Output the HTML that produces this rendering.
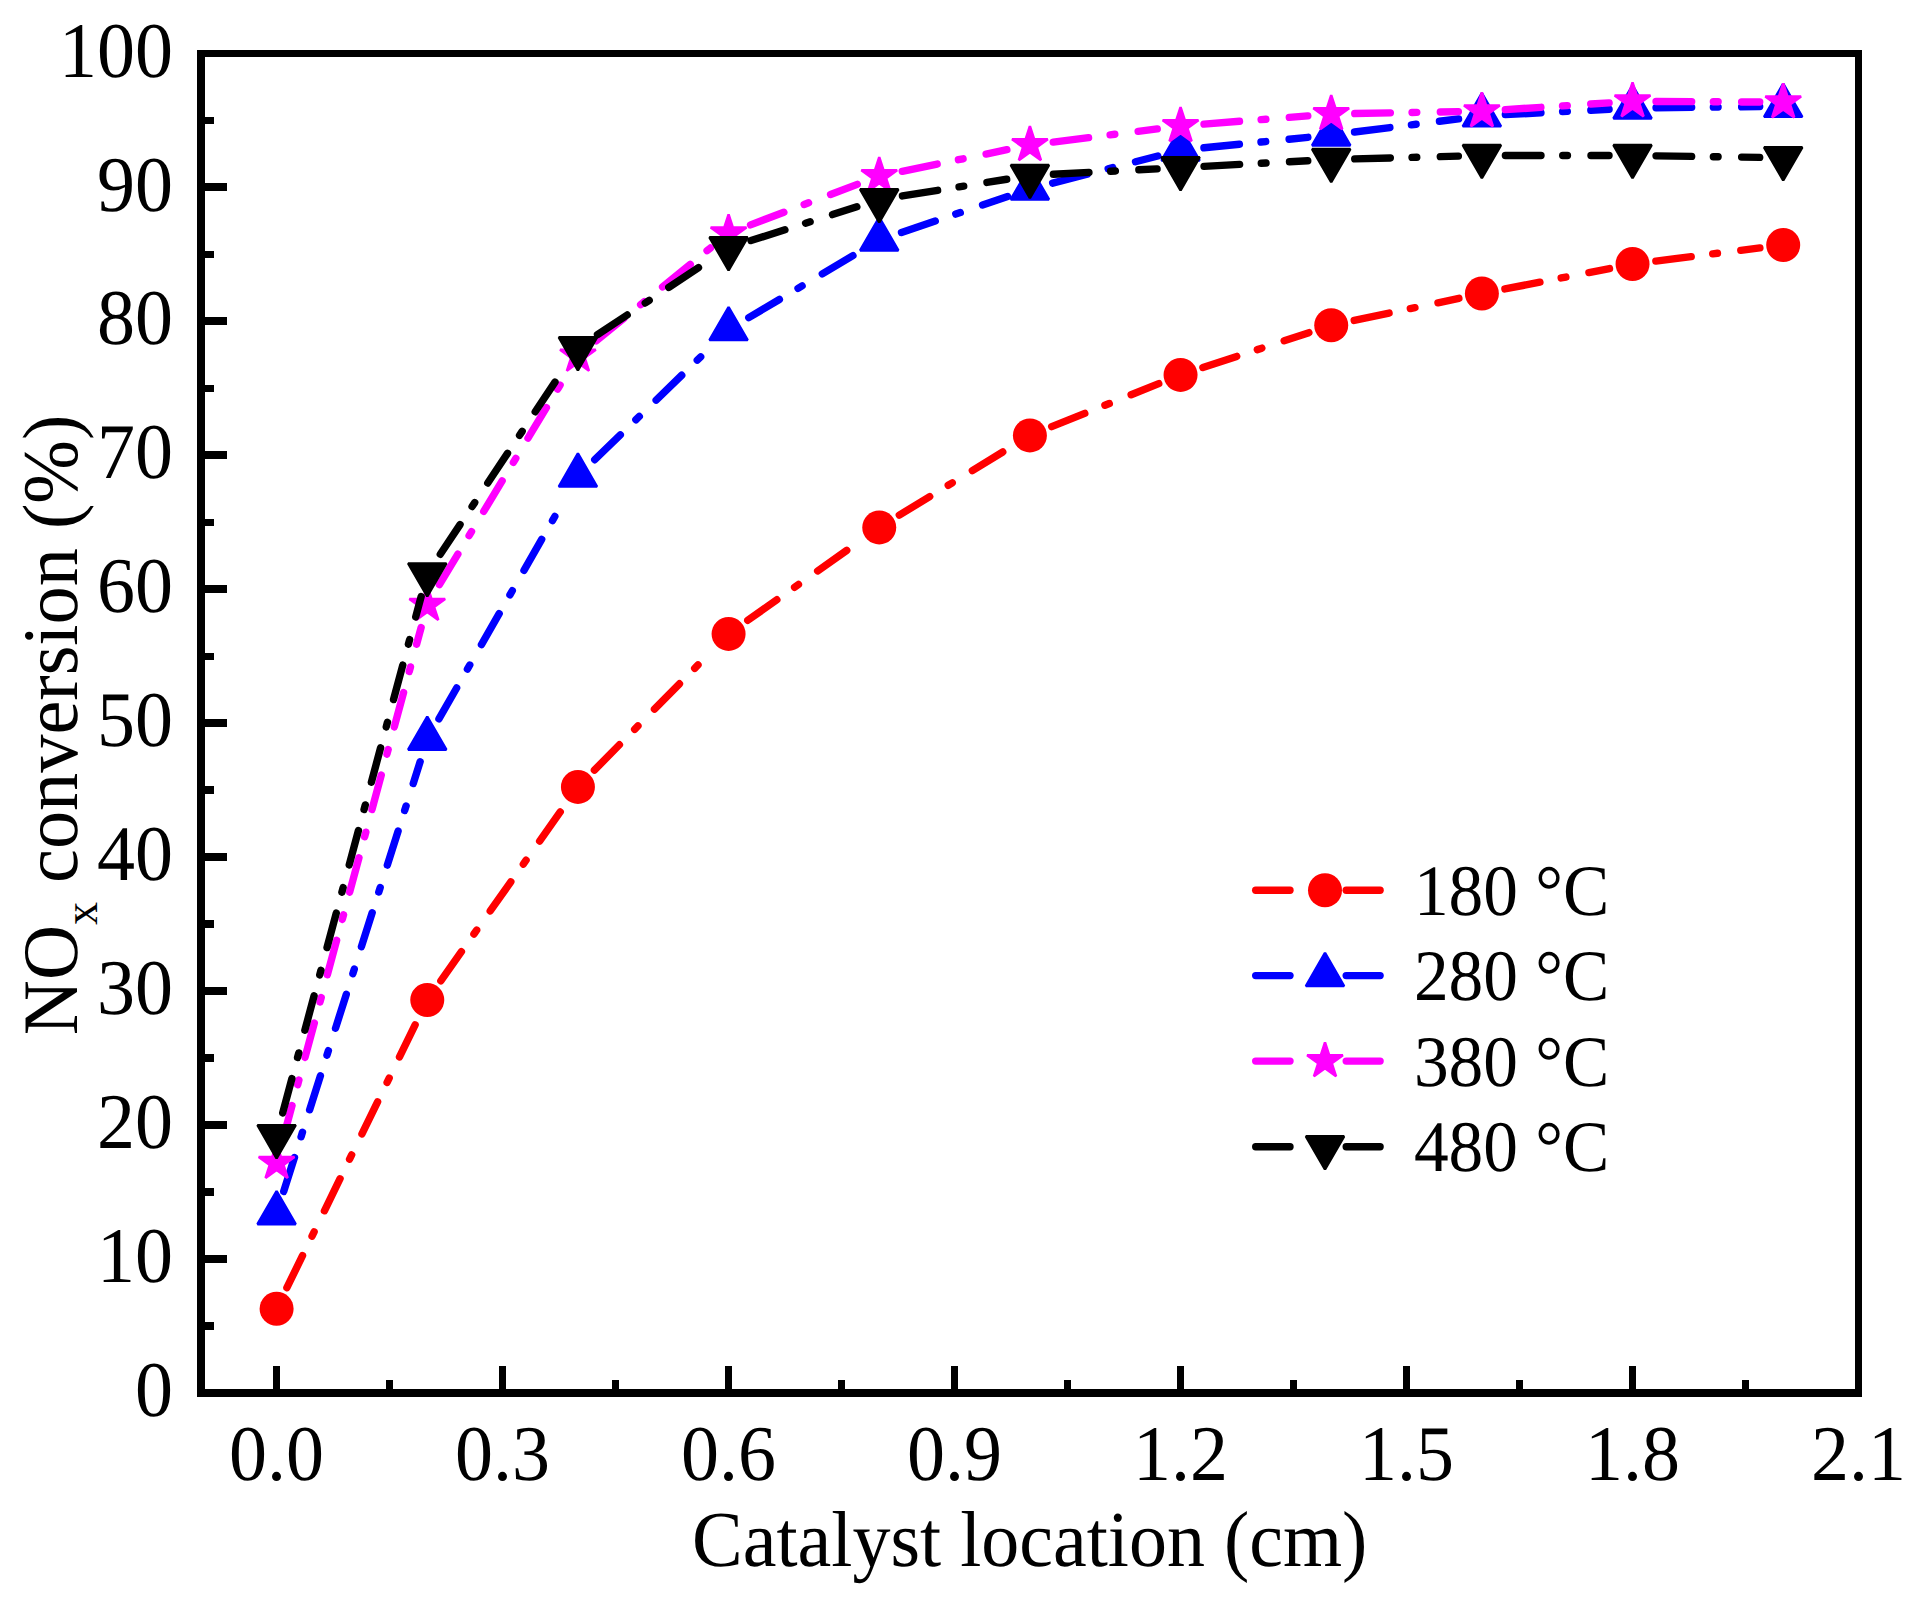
<!DOCTYPE html>
<html><head><meta charset="utf-8"><title>NOx conversion vs catalyst location</title>
<style>html,body{margin:0;padding:0;background:#fff;width:1913px;height:1602px;overflow:hidden}svg{display:block}</style>
</head><body><svg width="1913" height="1602" viewBox="0 0 1913 1602" text-rendering="geometricPrecision"><g stroke="#ff0000" stroke-width="7.4" stroke-linecap="round" stroke-dasharray="35.63 21.7 4.74 23.52" fill="none"><line x1="286.9" y1="1287.68" x2="416.96" y2="1021.12"/><line x1="440.83" y1="980.81" x2="564.35" y2="806.09"/><line x1="594.41" y1="770.16" x2="712.09" y2="650.64"/><line x1="747.77" y1="620.34" x2="860.05" y2="540.96"/><line x1="899.3" y1="515.15" x2="1009.84" y2="447.65"/><line x1="1051.71" y1="426.64" x2="1158.75" y2="383.66"/><line x1="1202.88" y1="367.55" x2="1308.9" y2="332.65"/><line x1="1354.21" y1="320.45" x2="1458.89" y2="298.35"/><line x1="1504.94" y1="288.98" x2="1609.48" y2="268.52"/><line x1="1655.86" y1="261.06" x2="1759.88" y2="247.94"/></g><circle cx="276.6" cy="1308.8" r="17.0" fill="#ff0000"/><circle cx="427.26" cy="1000" r="17.0" fill="#ff0000"/><circle cx="577.92" cy="786.9" r="17.0" fill="#ff0000"/><circle cx="728.58" cy="633.9" r="17.0" fill="#ff0000"/><circle cx="879.24" cy="527.4" r="17.0" fill="#ff0000"/><circle cx="1029.9" cy="435.4" r="17.0" fill="#ff0000"/><circle cx="1180.56" cy="374.9" r="17.0" fill="#ff0000"/><circle cx="1331.22" cy="325.3" r="17.0" fill="#ff0000"/><circle cx="1481.88" cy="293.5" r="17.0" fill="#ff0000"/><circle cx="1632.54" cy="264" r="17.0" fill="#ff0000"/><circle cx="1783.2" cy="245" r="17.0" fill="#ff0000"/><g stroke="#0000ff" stroke-width="7.4" stroke-linecap="round" stroke-dasharray="35.63 21.7 4.74 23.52" fill="none"><line x1="283.71" y1="1191.4" x2="420.15" y2="761.7"/><line x1="438.93" y1="718.9" x2="566.25" y2="496.5"/><line x1="594.77" y1="459.72" x2="711.73" y2="346.08"/><line x1="748.77" y1="317.68" x2="859.05" y2="252.02"/><line x1="901.5" y1="232.47" x2="1007.64" y2="196.53"/><line x1="1052.65" y1="183.13" x2="1157.81" y2="155.97"/><line x1="1203.94" y1="147.76" x2="1307.84" y2="137.34"/><line x1="1354.53" y1="132.04" x2="1458.57" y2="118.86"/><line x1="1505.35" y1="114.67" x2="1609.07" y2="109.23"/><line x1="1656.04" y1="107.75" x2="1759.7" y2="106.65"/></g><path d="M276.6 1191.13L295.7 1224.21L257.5 1224.21Z" fill="#0000ff" stroke="#0000ff" stroke-width="2.5" stroke-linejoin="bevel"/><path d="M427.26 716.63L446.36 749.71L408.16 749.71Z" fill="#0000ff" stroke="#0000ff" stroke-width="2.5" stroke-linejoin="bevel"/><path d="M577.92 453.43L597.02 486.51L558.82 486.51Z" fill="#0000ff" stroke="#0000ff" stroke-width="2.5" stroke-linejoin="bevel"/><path d="M728.58 307.03L747.68 340.11L709.48 340.11Z" fill="#0000ff" stroke="#0000ff" stroke-width="2.5" stroke-linejoin="bevel"/><path d="M879.24 217.33L898.34 250.41L860.14 250.41Z" fill="#0000ff" stroke="#0000ff" stroke-width="2.5" stroke-linejoin="bevel"/><path d="M1029.9 166.33L1049 199.41L1010.8 199.41Z" fill="#0000ff" stroke="#0000ff" stroke-width="2.5" stroke-linejoin="bevel"/><path d="M1180.56 127.43L1199.66 160.51L1161.46 160.51Z" fill="#0000ff" stroke="#0000ff" stroke-width="2.5" stroke-linejoin="bevel"/><path d="M1331.22 112.33L1350.32 145.41L1312.12 145.41Z" fill="#0000ff" stroke="#0000ff" stroke-width="2.5" stroke-linejoin="bevel"/><path d="M1481.88 93.23L1500.98 126.31L1462.78 126.31Z" fill="#0000ff" stroke="#0000ff" stroke-width="2.5" stroke-linejoin="bevel"/><path d="M1632.54 85.33L1651.64 118.41L1613.44 118.41Z" fill="#0000ff" stroke="#0000ff" stroke-width="2.5" stroke-linejoin="bevel"/><path d="M1783.2 83.73L1802.3 116.81L1764.1 116.81Z" fill="#0000ff" stroke="#0000ff" stroke-width="2.5" stroke-linejoin="bevel"/><g stroke="#ff00ff" stroke-width="7.4" stroke-linecap="round" stroke-dasharray="35.63 21.7 4.74 23.52" fill="none"><line x1="282.73" y1="1140.01" x2="421.13" y2="627.49"/><line x1="439.42" y1="584.69" x2="565.76" y2="375.71"/><line x1="596.16" y1="340.78" x2="710.34" y2="248.02"/><line x1="750.55" y1="224.86" x2="857.27" y2="184.34"/><line x1="902.26" y1="171.26" x2="1006.88" y2="149.74"/><line x1="1053.22" y1="142.06" x2="1157.24" y2="128.94"/><line x1="1203.99" y1="124.13" x2="1307.79" y2="115.87"/><line x1="1354.72" y1="113.56" x2="1458.38" y2="111.64"/><line x1="1505.33" y1="109.66" x2="1609.09" y2="102.84"/><line x1="1656.04" y1="101.44" x2="1759.7" y2="102.06"/></g><path d="M276.6 1143.9L280.82 1156.89L294.48 1156.89L283.43 1164.92L287.65 1177.91L276.6 1169.88L265.55 1177.91L269.77 1164.92L258.72 1156.89L272.38 1156.89Z" fill="#ff00ff" stroke="#ff00ff" stroke-width="2.5" stroke-linejoin="bevel"/><path d="M427.26 586L431.48 598.99L445.14 598.99L434.09 607.02L438.31 620.01L427.26 611.98L416.21 620.01L420.43 607.02L409.38 598.99L423.04 598.99Z" fill="#ff00ff" stroke="#ff00ff" stroke-width="2.5" stroke-linejoin="bevel"/><path d="M577.92 336.8L582.14 349.79L595.8 349.79L584.75 357.82L588.97 370.81L577.92 362.78L566.87 370.81L571.09 357.82L560.04 349.79L573.7 349.79Z" fill="#ff00ff" stroke="#ff00ff" stroke-width="2.5" stroke-linejoin="bevel"/><path d="M728.58 214.4L732.8 227.39L746.46 227.39L735.41 235.42L739.63 248.41L728.58 240.38L717.53 248.41L721.75 235.42L710.7 227.39L724.36 227.39Z" fill="#ff00ff" stroke="#ff00ff" stroke-width="2.5" stroke-linejoin="bevel"/><path d="M879.24 157.2L883.46 170.19L897.12 170.19L886.07 178.22L890.29 191.21L879.24 183.18L868.19 191.21L872.41 178.22L861.36 170.19L875.02 170.19Z" fill="#ff00ff" stroke="#ff00ff" stroke-width="2.5" stroke-linejoin="bevel"/><path d="M1029.9 126.2L1034.12 139.19L1047.78 139.19L1036.73 147.22L1040.95 160.21L1029.9 152.18L1018.85 160.21L1023.07 147.22L1012.02 139.19L1025.68 139.19Z" fill="#ff00ff" stroke="#ff00ff" stroke-width="2.5" stroke-linejoin="bevel"/><path d="M1180.56 107.2L1184.78 120.19L1198.44 120.19L1187.39 128.22L1191.61 141.21L1180.56 133.18L1169.51 141.21L1173.73 128.22L1162.68 120.19L1176.34 120.19Z" fill="#ff00ff" stroke="#ff00ff" stroke-width="2.5" stroke-linejoin="bevel"/><path d="M1331.22 95.2L1335.44 108.19L1349.1 108.19L1338.05 116.22L1342.27 129.21L1331.22 121.18L1320.17 129.21L1324.39 116.22L1313.34 108.19L1327 108.19Z" fill="#ff00ff" stroke="#ff00ff" stroke-width="2.5" stroke-linejoin="bevel"/><path d="M1481.88 92.4L1486.1 105.39L1499.76 105.39L1488.71 113.42L1492.93 126.41L1481.88 118.38L1470.83 126.41L1475.05 113.42L1464 105.39L1477.66 105.39Z" fill="#ff00ff" stroke="#ff00ff" stroke-width="2.5" stroke-linejoin="bevel"/><path d="M1632.54 82.5L1636.76 95.49L1650.42 95.49L1639.37 103.52L1643.59 116.51L1632.54 108.48L1621.49 116.51L1625.71 103.52L1614.66 95.49L1628.32 95.49Z" fill="#ff00ff" stroke="#ff00ff" stroke-width="2.5" stroke-linejoin="bevel"/><path d="M1783.2 83.4L1787.42 96.39L1801.08 96.39L1790.03 104.42L1794.25 117.41L1783.2 109.38L1772.15 117.41L1776.37 104.42L1765.32 96.39L1778.98 96.39Z" fill="#ff00ff" stroke="#ff00ff" stroke-width="2.5" stroke-linejoin="bevel"/><g stroke="#000000" stroke-width="7.4" stroke-linecap="round" stroke-dasharray="35.63 21.7 4.74 23.52" fill="none"><line x1="282.69" y1="1112.9" x2="421.17" y2="596.5"/><line x1="440.29" y1="554.24" x2="564.89" y2="367.26"/><line x1="597.5" y1="334.7" x2="709" y2="260.7"/><line x1="750.97" y1="240.57" x2="856.85" y2="206.83"/><line x1="902.44" y1="195.97" x2="1006.7" y2="179.23"/><line x1="1053.37" y1="174.27" x2="1157.09" y2="168.83"/><line x1="1204.03" y1="166.34" x2="1307.75" y2="160.76"/><line x1="1354.71" y1="158.88" x2="1458.39" y2="156.12"/><line x1="1505.38" y1="155.5" x2="1609.04" y2="155.5"/><line x1="1656.04" y1="155.84" x2="1759.7" y2="157.36"/></g><path d="M276.6 1158.27L295.7 1125.19L257.5 1125.19Z" fill="#000000" stroke="#000000" stroke-width="2.5" stroke-linejoin="bevel"/><path d="M427.26 596.47L446.36 563.39L408.16 563.39Z" fill="#000000" stroke="#000000" stroke-width="2.5" stroke-linejoin="bevel"/><path d="M577.92 370.37L597.02 337.29L558.82 337.29Z" fill="#000000" stroke="#000000" stroke-width="2.5" stroke-linejoin="bevel"/><path d="M728.58 270.37L747.68 237.29L709.48 237.29Z" fill="#000000" stroke="#000000" stroke-width="2.5" stroke-linejoin="bevel"/><path d="M879.24 222.37L898.34 189.29L860.14 189.29Z" fill="#000000" stroke="#000000" stroke-width="2.5" stroke-linejoin="bevel"/><path d="M1029.9 198.17L1049 165.09L1010.8 165.09Z" fill="#000000" stroke="#000000" stroke-width="2.5" stroke-linejoin="bevel"/><path d="M1180.56 190.27L1199.66 157.19L1161.46 157.19Z" fill="#000000" stroke="#000000" stroke-width="2.5" stroke-linejoin="bevel"/><path d="M1331.22 182.17L1350.32 149.09L1312.12 149.09Z" fill="#000000" stroke="#000000" stroke-width="2.5" stroke-linejoin="bevel"/><path d="M1481.88 178.17L1500.98 145.09L1462.78 145.09Z" fill="#000000" stroke="#000000" stroke-width="2.5" stroke-linejoin="bevel"/><path d="M1632.54 178.17L1651.64 145.09L1613.44 145.09Z" fill="#000000" stroke="#000000" stroke-width="2.5" stroke-linejoin="bevel"/><path d="M1783.2 180.37L1802.3 147.29L1764.1 147.29Z" fill="#000000" stroke="#000000" stroke-width="2.5" stroke-linejoin="bevel"/><g fill="#000" shape-rendering="crispEdges"><rect x="197" y="50" width="8" height="1347"/><rect x="197" y="50" width="1665" height="7"/><rect x="1855" y="50" width="7" height="1347"/><rect x="197" y="1389" width="1665" height="8"/><rect x="273.1" y="1366" width="7" height="24"/><rect x="499.09" y="1366" width="7" height="24"/><rect x="725.08" y="1366" width="7" height="24"/><rect x="951.07" y="1366" width="7" height="24"/><rect x="1177.06" y="1366" width="7" height="24"/><rect x="1403.05" y="1366" width="7" height="24"/><rect x="1629.04" y="1366" width="7" height="24"/><rect x="386.35" y="1380" width="6.5" height="10"/><rect x="612.34" y="1380" width="6.5" height="10"/><rect x="838.32" y="1380" width="6.5" height="10"/><rect x="1064.31" y="1380" width="6.5" height="10"/><rect x="1290.3" y="1380" width="6.5" height="10"/><rect x="1516.3" y="1380" width="6.5" height="10"/><rect x="1742.28" y="1380" width="6.5" height="10"/><rect x="204" y="1255.05" width="23" height="8"/><rect x="204" y="1121.1" width="23" height="8"/><rect x="204" y="987.15" width="23" height="8"/><rect x="204" y="853.2" width="23" height="8"/><rect x="204" y="719.25" width="23" height="8"/><rect x="204" y="585.3" width="23" height="8"/><rect x="204" y="451.35" width="23" height="8"/><rect x="204" y="317.4" width="23" height="8"/><rect x="204" y="183.45" width="23" height="8"/><rect x="204" y="1322.28" width="10" height="7.5"/><rect x="204" y="1188.33" width="10" height="7.5"/><rect x="204" y="1054.38" width="10" height="7.5"/><rect x="204" y="920.42" width="10" height="7.5"/><rect x="204" y="786.48" width="10" height="7.5"/><rect x="204" y="652.52" width="10" height="7.5"/><rect x="204" y="518.58" width="10" height="7.5"/><rect x="204" y="384.62" width="10" height="7.5"/><rect x="204" y="250.67" width="10" height="7.5"/><rect x="204" y="116.73" width="10" height="7.5"/></g><g font-family="Liberation Serif, Times New Roman, serif" font-size="76" fill="#000"><text x="173" y="1365.57" text-anchor="end" transform="translate(0 0) scale(1 1.037)">0</text><text x="173" y="1236.4" text-anchor="end" transform="translate(0 0) scale(1 1.037)">10</text><text x="173" y="1107.23" text-anchor="end" transform="translate(0 0) scale(1 1.037)">20</text><text x="173" y="978.06" text-anchor="end" transform="translate(0 0) scale(1 1.037)">30</text><text x="173" y="848.89" text-anchor="end" transform="translate(0 0) scale(1 1.037)">40</text><text x="173" y="719.72" text-anchor="end" transform="translate(0 0) scale(1 1.037)">50</text><text x="173" y="590.55" text-anchor="end" transform="translate(0 0) scale(1 1.037)">60</text><text x="173" y="461.38" text-anchor="end" transform="translate(0 0) scale(1 1.037)">70</text><text x="173" y="332.21" text-anchor="end" transform="translate(0 0) scale(1 1.037)">80</text><text x="173" y="203.04" text-anchor="end" transform="translate(0 0) scale(1 1.037)">90</text><text x="173" y="73.87" text-anchor="end" transform="translate(0 0) scale(1 1.037)">100</text><text x="276.6" y="1427.58" text-anchor="middle" transform="scale(1 1.037)">0.0</text><text x="502.59" y="1427.58" text-anchor="middle" transform="scale(1 1.037)">0.3</text><text x="728.58" y="1427.58" text-anchor="middle" transform="scale(1 1.037)">0.6</text><text x="954.57" y="1427.58" text-anchor="middle" transform="scale(1 1.037)">0.9</text><text x="1180.56" y="1427.58" text-anchor="middle" transform="scale(1 1.037)">1.2</text><text x="1406.55" y="1427.58" text-anchor="middle" transform="scale(1 1.037)">1.5</text><text x="1632.54" y="1427.58" text-anchor="middle" transform="scale(1 1.037)">1.8</text><text x="1858.53" y="1427.58" text-anchor="middle" transform="scale(1 1.037)">2.1</text></g><text x="1029.75" y="1500.1" text-anchor="middle" font-family="Liberation Serif, serif" font-size="76" transform="scale(1 1.044)">Catalyst location (cm)</text><text transform="translate(77.1 1033) rotate(-90) scale(1 1.03)" x="-2.2" y="0" font-family="Liberation Serif, serif" font-size="76.3">NO<tspan font-size="46" dy="19">x</tspan><tspan dy="-19"> conversion (%)</tspan></text><g stroke="#ff0000" stroke-width="7.4" stroke-linecap="round"><line x1="1255.7" y1="890.3" x2="1290" y2="890.3"/><line x1="1346.2" y1="890.3" x2="1380.1" y2="890.3"/></g><circle cx="1325" cy="890.3" r="17.0" fill="#ff0000"/><text x="1413.9" y="876.39" font-family="Liberation Serif, serif" font-size="69.4" transform="scale(1 1.044)">180 °C</text><g stroke="#0000ff" stroke-width="7.4" stroke-linecap="round"><line x1="1255.7" y1="975.6" x2="1290" y2="975.6"/><line x1="1346.2" y1="975.6" x2="1380.1" y2="975.6"/></g><path d="M1325 952.93L1344.1 986.01L1305.9 986.01Z" fill="#0000ff" stroke="#0000ff" stroke-width="2.5" stroke-linejoin="bevel"/><text x="1413.9" y="958.09" font-family="Liberation Serif, serif" font-size="69.4" transform="scale(1 1.044)">280 °C</text><g stroke="#ff00ff" stroke-width="7.4" stroke-linecap="round"><line x1="1255.7" y1="1061.1" x2="1290" y2="1061.1"/><line x1="1346.2" y1="1061.1" x2="1380.1" y2="1061.1"/></g><path d="M1325 1042.3L1329.22 1055.29L1342.88 1055.29L1331.83 1063.32L1336.05 1076.31L1325 1068.28L1313.95 1076.31L1318.17 1063.32L1307.12 1055.29L1320.78 1055.29Z" fill="#ff00ff" stroke="#ff00ff" stroke-width="2.5" stroke-linejoin="bevel"/><text x="1413.9" y="1039.99" font-family="Liberation Serif, serif" font-size="69.4" transform="scale(1 1.044)">380 °C</text><g stroke="#000000" stroke-width="7.4" stroke-linecap="round"><line x1="1255.7" y1="1146.7" x2="1290" y2="1146.7"/><line x1="1346.2" y1="1146.7" x2="1380.1" y2="1146.7"/></g><path d="M1325 1169.37L1344.1 1136.29L1305.9 1136.29Z" fill="#000000" stroke="#000000" stroke-width="2.5" stroke-linejoin="bevel"/><text x="1413.9" y="1121.98" font-family="Liberation Serif, serif" font-size="69.4" transform="scale(1 1.044)">480 °C</text></svg></body></html>
